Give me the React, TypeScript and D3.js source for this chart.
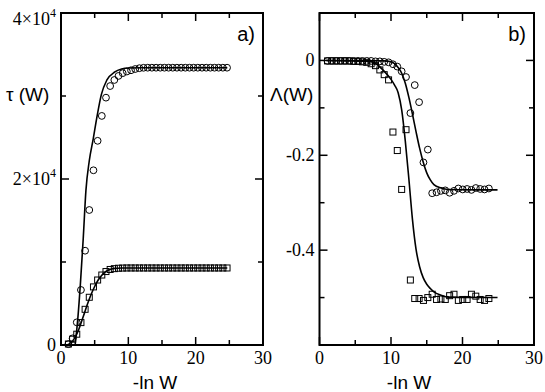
import * as d3 from "d3";

// panel a) tau(W) vs -ln W
const xA = [1.1, 1.72, 2.34, 2.96, 3.58, 4.2, 4.82, 5.44, 6.06, 6.68, 7.3, 7.92, 8.54, 9.16, 9.78, 10.4, 11.02, 11.64, 12.26, 12.88, 13.5, 14.12, 14.74, 15.36, 15.98, 16.6, 17.22, 17.84, 18.46, 19.08, 19.7, 20.32, 20.94, 21.56, 22.18, 22.8, 23.42, 24.04, 24.66];
const circlesA = [100, 800, 2730, 6630, 11360, 16265, 21050, 24600, 27600, 29800, 31200, 31930, 32420, 32750, 32950, 33100, 33250, 33350, 33400, 33410, 33410, 33410, 33410, 33410, 33410, 33410, 33410, 33410, 33410, 33410, 33410, 33410, 33410, 33410, 33410, 33410, 33410, 33410, 33410];
const squaresA = [120, 700, 1300, 2700, 4300, 5750, 7000, 7830, 8430, 8850, 9100, 9200, 9250, 9270, 9280, 9280, 9280, 9280, 9280, 9280, 9280, 9280, 9280, 9280, 9280, 9280, 9280, 9280, 9280, 9280, 9280, 9280, 9280, 9280, 9280, 9280, 9280, 9280, 9280];
const fitCircleAx = [2.1, 2.5, 2.9, 3.3, 3.7, 4.2, 4.8, 5.3, 6.0, 6.8, 8.0, 9.0, 10.0, 12.0, 24.7];
const fitCircleAy = [0, 3200, 7600, 12800, 18600, 22200, 24900, 27300, 30200, 31900, 32900, 33250, 33380, 33410, 33410];
const fitSquareAx = [0.9, 1.5, 2.0, 2.5, 3.0, 3.5, 4.0, 4.5, 5.0, 5.5, 6.0, 6.5, 7.0, 7.5, 8.0, 9.0, 10.0, 24.7];
const fitSquareAy = [0, 300, 800, 1600, 2700, 3900, 5100, 6150, 7050, 7800, 8350, 8750, 9000, 9150, 9230, 9270, 9280, 9280];

// panel b) Lambda(W) vs -ln W
const xB = [1.12, 1.73, 2.34, 2.95, 3.56, 4.17, 4.78, 5.39, 6.0, 6.61, 7.22, 7.83, 8.44, 9.05, 9.66, 10.27, 10.88, 11.49, 12.1, 12.71, 13.32, 13.93, 14.54, 15.15, 15.76, 16.37, 16.98, 17.59, 18.2, 18.81, 19.42, 20.03, 20.64, 21.25, 21.86, 22.47, 23.08, 23.69];
const circlesB = [-0.001, -0.001, -0.001, -0.001, -0.001, -0.001, -0.001, -0.001, -0.001, -0.001, -0.001, -0.002, -0.002, -0.003, -0.004, -0.008, -0.013, -0.023, -0.035, -0.111, -0.052, -0.088, -0.215, -0.188, -0.28, -0.278, -0.275, -0.274, -0.279, -0.275, -0.27, -0.272, -0.271, -0.273, -0.269, -0.271, -0.272, -0.27];
const squaresB = [-0.001, -0.001, -0.001, -0.001, -0.001, -0.001, -0.002, -0.002, -0.003, -0.004, -0.007, -0.011, -0.02, -0.03, -0.041, -0.151, -0.19, -0.272, -0.146, -0.463, -0.502, -0.502, -0.506, -0.5, -0.493, -0.504, -0.503, -0.504, -0.496, -0.493, -0.506, -0.504, -0.504, -0.493, -0.497, -0.504, -0.506, -0.502];
const fitCircleBx = [1.0, 9.0, 10.0, 11.0, 11.5, 12.0, 12.5, 13.0, 13.5, 14.0, 14.5, 15.0, 15.5, 16.0, 17.0, 18.0, 24.9];
const fitCircleBy = [0, -0.001, -0.003, -0.015, -0.027, -0.048, -0.078, -0.113, -0.15, -0.185, -0.214, -0.237, -0.252, -0.262, -0.269, -0.272, -0.273];
const fitSquareBx = [1.0, 7.0, 8.0, 9.0, 10.0, 10.5, 11.0, 11.5, 12.0, 12.5, 13.0, 13.5, 14.0, 14.5, 15.0, 15.5, 16.0, 17.0, 18.0, 24.9];
const fitSquareBy = [0, -0.002, -0.008, -0.022, -0.04, -0.052, -0.068, -0.105, -0.17, -0.25, -0.335, -0.398, -0.435, -0.458, -0.472, -0.481, -0.488, -0.495, -0.499, -0.5];

const xMajor = [0, 10, 20, 30];
const xMinor = [5, 15, 25];
const yMajorA = [0, 20000, 40000];
const yMinorA = [10000, 30000];
const yLabelsA = [0, 20000, 40000];
const yMajorB = [0, -0.2, -0.4];
const yMinorB = [-0.1, -0.3, -0.5];
const yLabelsB = [0, -0.2, -0.4];

const serif = "Liberation Serif";
const sans = "Liberation Sans";

type PanelProps = {
  box: { left: number; right: number; top: number; bottom: number };
  yDomain: [number, number];
  xs: number[];
  circles: number[];
  squares: number[];
  fitC: [number[], number[]];
  fitS: [number[], number[]];
  yMajor: number[];
  yMinor: number[];
  yLabels: number[];
  yLabel: (v: number) => any;
  title: string;
  ylab: string;
  ylabX: number;
  xlabX: number;
};

function Panel(p: PanelProps) {
  const { left, right, top, bottom } = p.box;
  const x = d3.scaleLinear().domain([0, 30]).range([left, right]);
  const y = d3.scaleLinear().domain(p.yDomain).range([bottom, top]);
  const line = d3
    .line<[number, number]>()
    .x((d) => x(d[0]))
    .y((d) => y(d[1]))
    .curve(d3.curveMonotoneX);
  const pts = (xs: number[], ys: number[]) => xs.map((v, i) => [v, ys[i]] as [number, number]);

  const ticks: any[] = [];
  const addX = (vals: number[], len: number) =>
    vals.forEach((v) => {
      ticks.push(<line key={`xb${v}`} x1={x(v)} x2={x(v)} y1={bottom} y2={bottom - len} />);
      ticks.push(<line key={`xt${v}`} x1={x(v)} x2={x(v)} y1={top} y2={top + len} />);
    });
  const addY = (vals: number[], len: number) =>
    vals.forEach((v) => {
      ticks.push(<line key={`yl${v}`} x1={left} x2={left + len} y1={y(v)} y2={y(v)} />);
      ticks.push(<line key={`yr${v}`} x1={right} x2={right - len} y1={y(v)} y2={y(v)} />);
    });
  addX(xMajor, 8);
  addX(xMinor, 5);
  addY(p.yMajor, 8);
  addY(p.yMinor, 5);

  return (
    <g>
      <g stroke="#000" strokeWidth={1.5}>{ticks}</g>
      <path d={line(pts(p.fitC[0], p.fitC[1])) || ""} fill="none" stroke="#000" strokeWidth={1.6} />
      <path d={line(pts(p.fitS[0], p.fitS[1])) || ""} fill="none" stroke="#000" strokeWidth={1.6} />
      <g fill="none" stroke="#000" strokeWidth={1}>
        {p.xs.map((v, i) => (
          <circle key={`c${i}`} cx={x(v)} cy={y(p.circles[i])} r={3.4} />
        ))}
        {p.xs.map((v, i) => (
          <rect key={`s${i}`} x={x(v) - 3} y={y(p.squares[i]) - 3} width={6} height={6} />
        ))}
      </g>
      <rect x={left} y={top} width={right - left} height={bottom - top} fill="none" stroke="#000" strokeWidth={2} />
      {xMajor.map((v) => (
        <text key={`xl${v}`} x={x(v)} y={364} textAnchor="middle" fontFamily={serif} fontSize={18} fill="#000">
          {v}
        </text>
      ))}
      {p.yLabels.map((v) => (
        <text
          key={`ylab${v}`}
          x={left - 5}
          y={Math.max(y(v), 19) + 6}
          textAnchor="end"
          fontFamily={serif}
          fontSize={18}
          fill="#000"
        >
          {p.yLabel(v)}
        </text>
      ))}
      <text x={p.xlabX} y={389} textAnchor="middle" fontFamily={sans} fontSize={19}>
        -ln W
      </text>
      <text x={p.ylabX} y={101} fontFamily={sans} fontSize={19}>
        {p.ylab}
      </text>
      <text x={right - 8} y={41} textAnchor="end" fontFamily={sans} fontSize={20}>
        {p.title}
      </text>
    </g>
  );
}

function sciLabel(v: number) {
  if (v === 0) return "0";
  return (
    <>
      {`${v / 10000}×10`}
      <tspan fontSize={12} dy={-8}>4</tspan>
    </>
  );
}

function decLabel(v: number) {
  if (v === 0) return "0";
  return d3.format(".1f")(v).replace("−", "-");
}

export default function App() {
  return (
    <svg
      width={545}
      height={392}
      viewBox="0 0 545 392"
      style={{ position: "absolute", left: 0, top: 0, background: "#fff" }}
    >
      <Panel
        box={{ left: 61, right: 263, top: 13, bottom: 345 }}
        yDomain={[0, 40000]}
        xs={xA}
        circles={circlesA}
        squares={squaresA}
        fitC={[fitCircleAx, fitCircleAy]}
        fitS={[fitSquareAx, fitSquareAy]}
        yMajor={yMajorA}
        yMinor={yMinorA}
        yLabels={yLabelsA}
        yLabel={sciLabel}
        title="a)"
        ylab="τ (W)"
        ylabX={6}
        xlabX={155}
      />
      <Panel
        box={{ left: 319.5, right: 534, top: 13, bottom: 345 }}
        yDomain={[-0.6, 0.1]}
        xs={xB}
        circles={circlesB}
        squares={squaresB}
        fitC={[fitCircleBx, fitCircleBy]}
        fitS={[fitSquareBx, fitSquareBy]}
        yMajor={yMajorB}
        yMinor={yMinorB}
        yLabels={yLabelsB}
        yLabel={decLabel}
        title="b)"
        ylab="Λ(W)"
        ylabX={270}
        xlabX={409}
      />
    </svg>
  );
}
